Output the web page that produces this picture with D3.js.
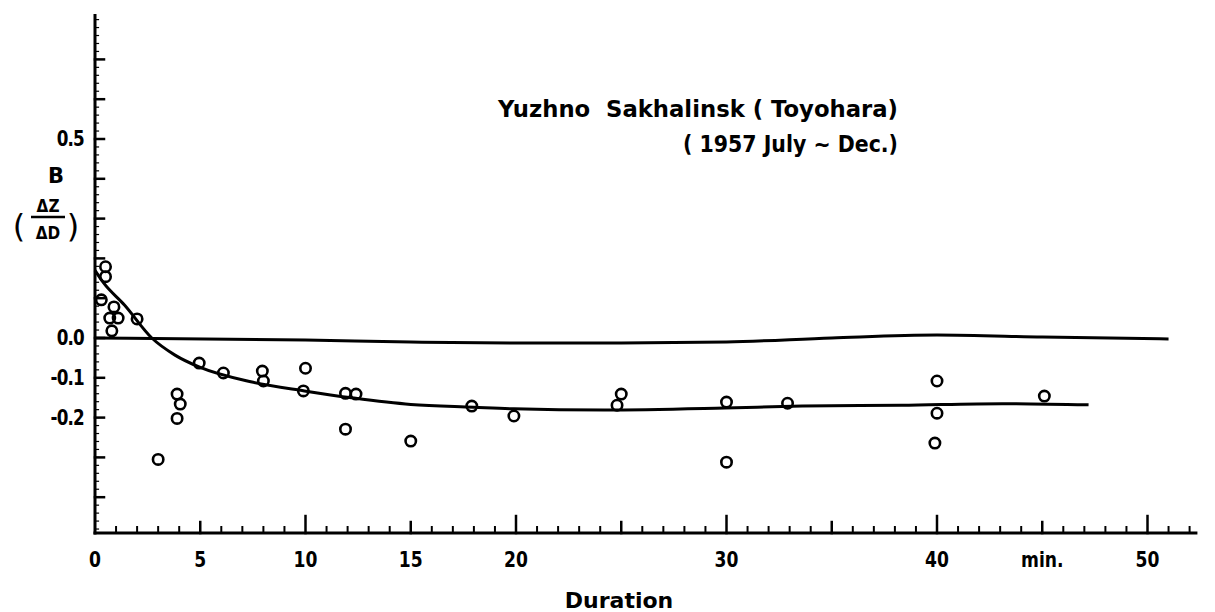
<!DOCTYPE html>
<html>
<head>
<meta charset="utf-8">
<script src="https://cdn.jsdelivr.net/npm/d3@7"></script>
<style>
  html, body { margin: 0; padding: 0; background: #fff; }
  svg { display: block; }
  text { fill: #000; }
</style>
</head>
<body>
<svg id="chart" width="1215" height="612"></svg>
<script>
// ---------------- data ----------------
const pointDuration = [0.5, 0.5, 0.3, 0.9, 0.7, 1.1, 2.0, 0.8,
  3.0, 3.9, 4.05, 3.9, 4.95, 6.1, 7.95, 8.0, 10.0, 9.9, 11.9, 12.4, 11.9, 15.0,
  17.9, 19.9, 25.0, 24.8, 30.0, 30.0, 32.9, 40.0, 40.0, 39.9, 45.1];
const pointB = [0.179, 0.154, 0.096, 0.078, 0.050, 0.050, 0.048, 0.018,
  -0.305, -0.141, -0.166, -0.202, -0.063, -0.088, -0.083, -0.108, -0.076, -0.133, -0.139, -0.141, -0.229, -0.259,
  -0.171, -0.196, -0.141, -0.169, -0.161, -0.312, -0.164, -0.108, -0.189, -0.264, -0.146];

const fitDuration = [0, 0.4, 1.4, 2.7, 3.8, 5.0, 7.4, 9.95, 12.3, 15.0, 18.0, 19.9, 24.2, 29.9, 33.6, 38.3, 43.1, 47.2];
const fitB = [0.17, 0.139, 0.083, 0.0, -0.043, -0.074, -0.11, -0.133, -0.151, -0.167, -0.174, -0.178, -0.181, -0.176, -0.171, -0.169, -0.165, -0.168];

const zeroDuration = [0, 10, 15, 20, 25, 30, 35, 40, 45, 51];
const zeroB = [0, -0.005, -0.01, -0.0125, -0.0125, -0.01, 0, 0.0075, 0.0025, -0.0025];

const xTickValues = [0, 5, 10, 15, 20, 30, 40, 45, 50];
const xTickLabels = ["0", "5", "10", "15", "20", "30", "40", "min.", "50"];
const yTickValues = [0.5, 0.0, -0.1, -0.2];
const yTickLabels = ["0.5", "0.0", "-0.1", "-0.2"];

const titleLines = ["Yuzhno  Sakhalinsk ( Toyohara)", "( 1957 July ~ Dec.)"];
const xTitle = "Duration";

// ---------------- layout ----------------
const svg = d3.select("#chart");
const x = d3.scaleLinear().domain([0, 50]).range([95, 1147.5]);
const y = d3.scaleLinear().domain([0, 0.5]).range([338, 139]);
const xAxisEnd = 52.3, yBottom = -0.49, yTop = 0.81;
const font = "'DejaVu Sans', sans-serif";

// ---------------- axes ----------------
const ax = svg.append("g").attr("stroke", "#000").attr("stroke-linecap", "square");
ax.append("line").attr("x1", x(0)).attr("x2", x(0)).attr("y1", y(yTop)).attr("y2", y(yBottom)).attr("stroke-width", 3);
ax.append("line").attr("x1", x(0)).attr("x2", x(xAxisEnd)).attr("y1", y(yBottom)).attr("y2", y(yBottom)).attr("stroke-width", 3);

// x ticks (every 1 min, pointing up)
const xMinor = d3.range(1, 53, 1);
ax.selectAll(".xt").data(xMinor).join("line")
  .attr("x1", d => x(d)).attr("x2", d => x(d))
  .attr("y1", y(yBottom))
  .attr("y2", d => y(yBottom) - (d % 10 === 0 ? 17 : d % 5 === 0 ? 11 : 6))
  .attr("stroke-width", d => d % 5 === 0 ? 2.5 : 2);

// y ticks
const yMajor = d3.range(-4, 8).map(i => i / 10);
ax.selectAll(".ytM").data(yMajor).join("line")
  .attr("x1", x(0)).attr("x2", x(0) + 9)
  .attr("y1", d => y(d)).attr("y2", d => y(d)).attr("stroke-width", 2.5);
const yMinor = d3.range(-48, 81, 2).map(i => i / 100);
ax.selectAll(".ytm").data(yMinor).join("line")
  .attr("x1", x(0)).attr("x2", x(0) + 3.5)
  .attr("y1", d => y(d)).attr("y2", d => y(d)).attr("stroke-width", 1.2);

// x tick labels (condensed)
svg.selectAll(".xl").data(xTickValues).join("text")
  .attr("transform", d => `translate(${x(d)},567) scale(0.78,1)`)
  .attr("text-anchor", "middle")
  .style("font-family", font).style("font-size", "22px").style("font-weight", "bold")
  .text((d, i) => xTickLabels[i]);

// y tick labels (condensed)
svg.selectAll(".yl").data(yTickValues).join("text")
  .attr("transform", d => `translate(84,${y(d) + 7}) scale(0.8,1)`)
  .attr("text-anchor", "end")
  .style("font-family", font).style("font-size", "21px").style("font-weight", "bold")
  .style("letter-spacing", "-1px")
  .text((d, i) => yTickLabels[i]);

// y axis title: B (ΔZ/ΔD)
const yt = svg.append("g").style("font-family", font).style("font-weight", "bold");
yt.append("text").attr("x", 56).attr("y", 183).attr("text-anchor", "middle").style("font-size", "21px").text("B");
yt.append("text").attr("x", 19).attr("y", 237).attr("text-anchor", "middle").style("font-size", "32px").style("font-weight", "normal").text("(");
yt.append("text").attr("x", 73).attr("y", 237).attr("text-anchor", "middle").style("font-size", "32px").style("font-weight", "normal").text(")");
yt.append("text").attr("transform", "translate(48,212) scale(0.85,1)").attr("text-anchor", "middle").style("font-size", "18px").text("ΔZ");
yt.append("text").attr("transform", "translate(48,239) scale(0.85,1)").attr("text-anchor", "middle").style("font-size", "18px").text("ΔD");
yt.append("line").attr("x1", 31).attr("x2", 65).attr("y1", 217).attr("y2", 217).attr("stroke", "#000").attr("stroke-width", 2.5);

// x axis title
svg.append("text").attr("x", 619).attr("y", 608).attr("text-anchor", "middle")
  .style("font-family", font).style("font-size", "22px").style("font-weight", "bold")
  .text(xTitle);

// title
svg.append("text").attr("x", 498).attr("y", 117)
  .attr("textLength", 400).attr("lengthAdjust", "spacingAndGlyphs")
  .style("font-family", font).style("font-size", "23px").style("font-weight", "bold").style("white-space", "pre")
  .text(titleLines[0]);
svg.append("text").attr("x", 683).attr("y", 152)
  .attr("textLength", 215).attr("lengthAdjust", "spacingAndGlyphs")
  .style("font-family", font).style("font-size", "23px").style("font-weight", "bold").style("white-space", "pre")
  .text(titleLines[1]);

// ---------------- lines ----------------
const line = d3.line().x(d => x(d[0])).y(d => y(d[1])).curve(d3.curveMonotoneX);
svg.append("path").datum(zeroDuration.map((d, i) => [d, zeroB[i]]))
  .attr("d", line).attr("fill", "none").attr("stroke", "#000").attr("stroke-width", 3);
svg.append("path").datum(fitDuration.map((d, i) => [d, fitB[i]]))
  .attr("d", line).attr("fill", "none").attr("stroke", "#000").attr("stroke-width", 3);

// ---------------- points ----------------
svg.selectAll(".pt").data(pointDuration).join("circle")
  .attr("cx", d => x(d)).attr("cy", (d, i) => y(pointB[i]))
  .attr("r", 5.2).attr("fill", "none").attr("stroke", "#000").attr("stroke-width", 2.6);
</script>
</body>
</html>
